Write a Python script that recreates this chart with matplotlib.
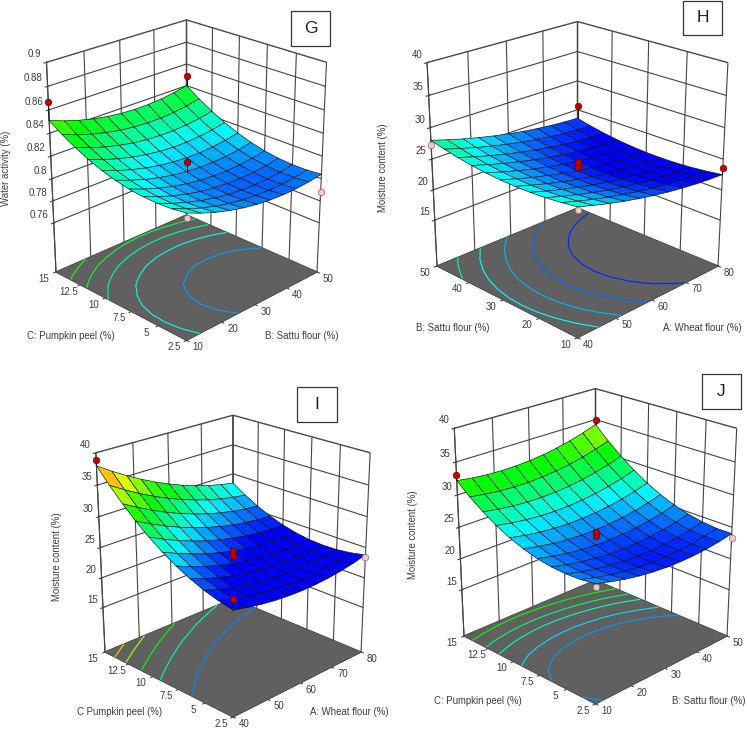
import numpy as np
import matplotlib
matplotlib.use("Agg")
import matplotlib.pyplot as plt
from matplotlib.colors import LinearSegmentedColormap
from matplotlib.patches import Rectangle
from mpl_toolkits.mplot3d import proj3d

plt.rcParams['font.family'] = ['Liberation Sans', 'DejaVu Sans']
plt.rcParams['font.size'] = 7
plt.rcParams['text.color'] = '#3c3c3c'
plt.rcParams['grid.color'] = '#444444'
plt.rcParams['grid.linewidth'] = 0.8
plt.rcParams['axes.edgecolor'] = '#444444'
plt.rcParams['axes.linewidth'] = 0.8
plt.rcParams['xtick.color'] = '#444444'
plt.rcParams['ytick.color'] = '#444444'

cmap = LinearSegmentedColormap.from_list('de', ['#0000ff', '#00ffff', '#00ff00', '#ffff00', '#ff0000'])

# axis values
sattu = np.linspace(10, 50, 11)
wheat = np.linspace(40, 80, 11)
peel = np.linspace(2.5, 15, 11)

# panel G: water activity, rows = pumpkin peel, columns = sattu flour
z_g = np.array([
    [.822, .8166, .812, .8082, .8052, .803, .8016, .801, .8012, .8022, .804],
    [.8202, .8149, .8103, .8066, .8037, .8016, .8002, .7997, .8, .801, .8029],
    [.8195, .8142, .8098, .8061, .8033, .8012, .7999, .7995, .7998, .801, .8029],
    [.8198, .8146, .8102, .8066, .8038, .8019, .8007, .8003, .8007, .8019, .8039],
    [.8211, .816, .8117, .8082, .8054, .8035, .8024, .8021, .8025, .8038, .8059],
    [.8235, .8185, .8142, .8108, .8081, .8063, .8052, .805, .8055, .8069, .809],
    [.8269, .8219, .8177, .8144, .8118, .81, .809, .8088, .8095, .8109, .8131],
    [.8314, .8265, .8224, .8191, .8166, .8148, .8139, .8138, .8145, .816, .8183],
    [.8369, .8321, .828, .8248, .8223, .8207, .8199, .8198, .8206, .8221, .8245],
    [.8434, .8386, .8347, .8315, .8291, .8276, .8268, .8268, .8276, .8293, .8317],
    [.851, .8463, .8424, .8393, .837, .8355, .8348, .8349, .8358, .8375, .84],
])

# panel H: moisture, rows = sattu flour, columns = wheat flour
z_h = np.array([
    [27.0, 26.24, 25.54, 24.92, 24.36, 23.88, 23.46, 23.12, 22.84, 22.64, 22.5],
    [26.65, 25.89, 25.19, 24.57, 24.01, 23.53, 23.11, 22.77, 22.49, 22.29, 22.15],
    [26.4, 25.64, 24.94, 24.32, 23.76, 23.28, 22.86, 22.52, 22.24, 22.04, 21.9],
    [26.25, 25.49, 24.79, 24.17, 23.61, 23.13, 22.71, 22.37, 22.09, 21.89, 21.75],
    [26.2, 25.44, 24.74, 24.12, 23.56, 23.08, 22.66, 22.32, 22.04, 21.84, 21.7],
    [26.25, 25.49, 24.79, 24.17, 23.61, 23.13, 22.71, 22.37, 22.09, 21.89, 21.75],
    [26.4, 25.64, 24.94, 24.32, 23.76, 23.28, 22.86, 22.52, 22.24, 22.04, 21.9],
    [26.65, 25.89, 25.19, 24.57, 24.01, 23.53, 23.11, 22.77, 22.49, 22.29, 22.15],
    [27.0, 26.24, 25.54, 24.92, 24.36, 23.88, 23.46, 23.12, 22.84, 22.64, 22.5],
    [27.45, 26.69, 25.99, 25.37, 24.81, 24.33, 23.91, 23.57, 23.29, 23.09, 22.95],
    [28.0, 27.24, 26.54, 25.92, 25.36, 24.88, 24.46, 24.12, 23.84, 23.64, 23.5],
])

# panel I: moisture, rows = pumpkin peel, columns = wheat flour
z_i = np.array([
    [24.0, 23.44, 23.0, 22.68, 22.48, 22.4, 22.44, 22.6, 22.88, 23.28, 23.8],
    [24.46, 23.8, 23.27, 22.85, 22.56, 22.39, 22.33, 22.4, 22.58, 22.89, 23.32],
    [25.12, 24.37, 23.74, 23.24, 22.85, 22.58, 22.43, 22.4, 22.5, 22.71, 23.04],
    [26.0, 25.15, 24.43, 23.83, 23.35, 22.99, 22.74, 22.62, 22.62, 22.74, 22.98],
    [27.08, 26.14, 25.33, 24.63, 24.06, 23.6, 23.26, 23.05, 22.95, 22.98, 23.12],
    [28.38, 27.35, 26.44, 25.65, 24.98, 24.43, 24.0, 23.69, 23.5, 23.43, 23.48],
    [29.88, 28.76, 27.75, 26.87, 26.1, 25.46, 24.94, 24.53, 24.25, 24.08, 24.04],
    [31.6, 30.38, 29.28, 28.3, 27.44, 26.71, 26.09, 25.59, 25.21, 24.95, 24.82],
    [33.52, 32.21, 31.02, 29.94, 28.99, 28.16, 27.45, 26.86, 26.38, 26.03, 25.8],
    [35.66, 34.25, 32.96, 31.8, 30.75, 29.83, 29.02, 28.33, 27.77, 27.32, 27.0],
    [38.0, 36.5, 35.12, 33.86, 32.72, 31.7, 30.8, 30.02, 29.36, 28.82, 28.4],
])

# panel J: moisture, rows = pumpkin peel, columns = sattu flour
z_j = np.array([
    [25.3, 24.63, 24.08, 23.65, 23.34, 23.15, 23.08, 23.13, 23.3, 23.59, 24.0],
    [24.96, 24.33, 23.81, 23.41, 23.14, 22.98, 22.94, 23.03, 23.23, 23.55, 23.99],
    [24.86, 24.25, 23.77, 23.4, 23.16, 23.04, 23.03, 23.15, 23.38, 23.74, 24.22],
    [24.98, 24.41, 23.95, 23.62, 23.41, 23.32, 23.35, 23.5, 23.77, 24.16, 24.67],
    [25.32, 24.79, 24.37, 24.07, 23.89, 23.83, 23.9, 24.08, 24.38, 24.8, 25.34],
    [25.9, 25.4, 25.01, 24.75, 24.6, 24.58, 24.67, 24.89, 25.22, 25.68, 26.25],
    [26.7, 26.23, 25.88, 25.65, 25.54, 25.54, 25.67, 25.92, 26.29, 26.78, 27.38],
    [27.74, 27.3, 26.98, 26.78, 26.7, 26.74, 26.9, 27.18, 27.58, 28.1, 28.75],
    [29.0, 28.59, 28.3, 28.14, 28.09, 28.17, 28.36, 28.67, 29.11, 29.66, 30.34],
    [30.48, 30.11, 29.86, 29.73, 29.71, 29.82, 30.05, 30.39, 30.86, 31.45, 32.15],
    [32.2, 31.86, 31.64, 31.54, 31.56, 31.7, 31.96, 32.34, 32.84, 33.46, 34.2],
])

# design points (x, y, z), above the surface red and below it pink
pts_g = ([10, 50, 30], [15, 15, 8.75], [.867, .849, .815])
low_g = ([50, 10], [2.5, 2.5], [.788, .818])
pts_h = ([80, 60, 60, 80], [50, 30, 30, 10], [25.6, 24.5, 23.7, 23.5])
low_h = ([40, 40], [50, 10], [27.3, 26.5])
pts_i = ([40, 60, 60, 40], [15, 8.75, 8.75, 2.5], [38.9, 24.5, 23.7, 25.6])
low_i = ([80], [2.5], [23.4])
pts_j = ([10, 50, 30, 30], [15, 15, 8.75, 8.75], [33.0, 34.9, 24.2, 23.6])
low_j = ([50, 10], [2.5, 2.5], [23.3, 24.8])

ticks_sattu = [10, 20, 30, 40, 50]
ticks_wheat = [40, 50, 60, 70, 80]
ticks_peel = [2.5, 5, 7.5, 10, 12.5, 15]
labels_peel = ['2.5', '5', '7.5', '10', '12.5', '15']
ticks_moist = [15, 20, 25, 30, 35, 40]
ticks_water = [.76, .78, .8, .82, .84, .86, .88, .9]
labels_water = ['0.76', '0.78', '0.8', '0.82', '0.84', '0.86', '0.88', '0.9']

fig = plt.figure(figsize=(7.47, 7.31), dpi=100)


def px(x, y):
    return x / 747, 1 - y / 731


def to_screen(ax, x, y, z):
    a = proj3d.proj_transform(x, y, z, ax.get_proj())
    p = ax.transData.transform((a[0], a[1]))
    return p[0], 731 - p[1]


def place(ax, left, right, c):
    # fit the square axes so the floor corners land on these pixels
    for i in range(3):
        ax.apply_aspect()
        pa = to_screen(ax, c[0], c[3], c[4])
        pb = to_screen(ax, c[1], c[2], c[4])
        pos = ax.get_position()
        w = pos.width * (right[0] - left[0]) / (pb[0] - pa[0])
        fx, fy = px((pa[0] + pb[0]) / 2, (pa[1] + pb[1]) / 2)
        rx = (fx - pos.x0) / pos.width
        ry = (fy - pos.y0) / pos.height
        tx, ty = px((left[0] + right[0]) / 2, (left[1] + right[1]) / 2)
        hgt = w * 747 / 731
        ax.set_position([tx - rx * w, ty - ry * hgt, w, hgt])
    ax.apply_aspect()


def panel(x, y, z, zmin, zmax, xticks, yticks, ylabels, zticks, zlabels, vmin, vmax,
          levels, pts, low, left, right, aspect, elev, zoom):
    ax = fig.add_axes([0.1, 0.1, 0.4, 0.4], projection='3d', computed_zorder=False)
    ax.view_init(elev=elev, azim=-135)
    ax.set_proj_type('persp')
    ax.set_box_aspect((1, 1, aspect), zoom=zoom)
    ax.patch.set_alpha(0)
    ax.set_xlim(x[0], x[-1])
    ax.set_ylim(y[0], y[-1])
    ax.set_zlim(zmin, zmax)
    X, Y = np.meshgrid(x, y)
    for a in (ax.xaxis, ax.yaxis):
        a.pane.set_facecolor('white')
        a.pane.set_edgecolor('#444444')
    ax.zaxis.pane.set_facecolor('#606060')
    ax.zaxis.pane.set_edgecolor('#606060')
    ax.set_xticks(xticks)
    ax.set_yticks(yticks)
    ax.set_zticks(zticks)
    ax.set_xticklabels([])
    ax.set_yticklabels([])
    ax.set_zticklabels([])
    # floor covers the grid that mplot3d puts on it
    ax.plot_surface(np.array([[x[0], x[-1]], [x[0], x[-1]]]), np.array([[y[0], y[0]], [y[-1], y[-1]]]),
                    np.full((2, 2), zmin), color='#606060', shade=False, linewidth=0, zorder=1)
    ax.contour(X, Y, z, levels=levels, zdir='z', offset=zmin, cmap=cmap, vmin=vmin, vmax=vmax,
               linewidths=0.8, zorder=2)
    ax.plot_surface(X, Y, z, rstride=1, cstride=1, cmap=cmap, vmin=vmin, vmax=vmax, shade=False,
                    edgecolor='#101010', linewidth=0.45, zorder=3)
    ax.scatter(low[0], low[1], low[2], s=22, color='#f8c8c8', edgecolor='#a06060', linewidth=0.5,
               depthshade=False, zorder=4)
    for xp, yp, zp in zip(pts[0], pts[1], pts[2]):
        zs = z[np.abs(y - yp).argmin(), np.abs(x - xp).argmin()]
        ax.plot([xp, xp], [yp, yp], [zp, zs], color='#101010', linewidth=0.7, zorder=4)
    ax.scatter(pts[0], pts[1], pts[2], s=22, color='#c00000', edgecolor='#700000', linewidth=0.5,
               depthshade=False, zorder=5)
    for c in ax.collections + ax.lines:
        c.set_clip_on(False)
    place(ax, left, right, (x[0], x[-1], y[0], y[-1], zmin))

    # tick labels
    for v in xticks:
        sx, sy = to_screen(ax, v, y[0], zmin)
        tx, ty = px(sx + 11, sy + 7)
        fig.text(tx, ty, str(v), ha='center', va='center')
    for v, s in zip(yticks, ylabels):
        sx, sy = to_screen(ax, x[0], v, zmin)
        tx, ty = px(sx - 12, sy + 7)
        fig.text(tx, ty, str(s), ha='center', va='center')
    for v, s in zip(zticks, zlabels):
        sx, sy = to_screen(ax, x[0], y[-1], v)
        tx, ty = px(sx - 5, sy - 8)
        fig.text(tx, ty, str(s), ha='right', va='center')
    return ax


panel(sattu, peel, z_g, .714, .9, ticks_sattu, ticks_peel, labels_peel, ticks_water, labels_water,
      .79, .89, [.806, .817, .826, .834, .842], pts_g, low_g, (56, 272), (317, 272), 1.2, 24, 1.4)
panel(wheat, sattu, z_h, 7.2, 40, ticks_wheat, ticks_sattu, ticks_sattu, ticks_moist, ticks_moist,
      22.5, 36.5, [23, 24, 25, 26, 27], pts_h, low_h, (437, 266), (718, 266), 1.07, 22.5, 1.55)
panel(wheat, peel, z_i, 7.3, 40, ticks_wheat, ticks_peel, labels_peel, ticks_moist, ticks_moist,
      24, 39, [26, 29, 31.5, 34, 36], pts_i, low_i, (105, 652), (361, 652), 1.15, 22.5, 1.5)
panel(sattu, peel, z_j, 7.3, 40, ticks_sattu, ticks_peel, labels_peel, ticks_moist, ticks_moist,
      22.5, 39.3, [25, 26.2, 27.9, 29.3, 31], pts_j, low_j, (464, 636), (727, 636), 1.17, 23, 1.5)

# axis titles
fs = 6.9
for s, xp, yp, r in [
    ('Water activity (%)', 6, 168, 90), ('C: Pumpkin peel (%)', 71, 336, 0), ('B: Sattu flour (%)', 302, 336, 0),
    ('Moisture content (%)', 383, 168, 90), ('B: Sattu flour (%)', 453, 328, 0), ('A: Wheat flour (%)', 702, 328, 0),
    ('Moisture content (%)', 57, 557, 90), ('C Pumpkin peel (%)', 120, 712, 0), ('A: Wheat flour (%)', 349, 712, 0),
    ('Moisture content (%)', 413, 535, 90), ('C: Pumpkin peel (%)', 478, 701, 0), ('B: Sattu flour (%)', 709, 701, 0),
]:
    tx, ty = px(xp, yp)
    fig.text(tx, ty, s, rotation=r, fontsize=fs, ha='center', va='center')

# panel letters in boxes
for s, x0, y0, x1, y1 in [('G', 291, 11, 330, 46), ('H', 683, 1, 722, 35), ('I', 297, 387, 337, 422), ('J', 702, 374, 741, 409)]:
    a, b = px(x0, y1)
    fig.add_artist(Rectangle((a, b), (x1 - x0) / 747, (y1 - y0) / 731, transform=fig.transFigure,
                             fill=False, edgecolor='#333333', linewidth=0.9))
    tx, ty = px((x0 + x1) / 2, (y0 + y1) / 2)
    fig.text(tx, ty, s, fontsize=12.5, ha='center', va='center', color='#222222')

fig.savefig('out.png', dpi=100)
